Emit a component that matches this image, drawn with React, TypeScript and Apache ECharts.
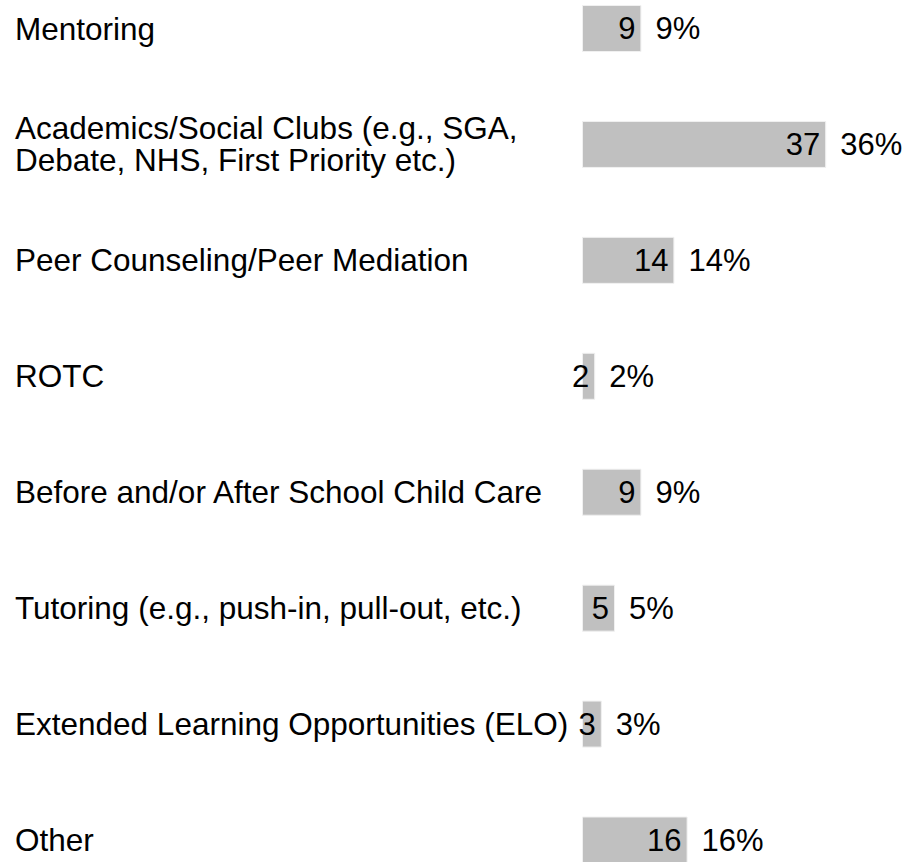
import React, { useEffect, useRef } from "react";
import * as echarts from "echarts";

const categories = [
  "Mentoring",
  "Academics/Social Clubs (e.g., SGA,\nDebate, NHS, First Priority etc.)",
  "Peer Counseling/Peer Mediation",
  "ROTC",
  "Before and/or After School Child Care",
  "Tutoring (e.g., push-in, pull-out, etc.)",
  "Extended Learning Opportunities (ELO)",
  "Other",
];
const counts = [9, 37, 14, 2, 9, 5, 3, 16];
const percents = [9, 36, 14, 2, 9, 5, 3, 16];

const FONT = "'Liberation Sans', Arial, Helvetica, sans-serif";

export default function App() {
  const ref = useRef<HTMLDivElement>(null);
  useEffect(() => {
    if (!ref.current) return;
    const chart = echarts.init(ref.current, null, { renderer: "svg" });
    chart.setOption({
      animation: false,
      backgroundColor: "#ffffff",
      grid: { left: 582, top: 28.5, width: 264, height: 811.5 },
      xAxis: {
        type: "value",
        min: 0,
        max: 40,
        show: false,
      },
      yAxis: {
        type: "category",
        inverse: true,
        boundaryGap: false,
        data: categories,
        axisLine: { show: false },
        axisTick: { show: false },
        splitLine: { show: false },
        axisLabel: {
          align: "left",
          margin: 567,
          color: "#000000",
          fontFamily: FONT,
          fontSize: 31.5,
          lineHeight: 32,
          padding: [6, 0, 0, 0],
        },
      },
      series: [
        {
          type: "bar",
          data: counts,
          barWidth: 47,
          barGap: "-100%",
          itemStyle: { color: "#c0c0c0", borderColor: "#f0f0f0", borderWidth: 1 },
          label: {
            show: true,
            position: "insideRight",
            distance: 6,
            color: "#000000",
            fontFamily: FONT,
            fontSize: 31,
            padding: [6, 0, 0, 0],
          },
          z: 2,
        },
        {
          type: "bar",
          data: counts,
          barWidth: 47,
          barGap: "-100%",
          itemStyle: { color: "rgba(0,0,0,0)" },
          label: {
            show: true,
            position: "right",
            distance: 14,
            color: "#000000",
            fontFamily: FONT,
            fontSize: 31,
            padding: [6, 0, 0, 0],
            formatter: (p: any) => percents[p.dataIndex] + "%",
          },
          z: 3,
        },
      ],
    });
    return () => chart.dispose();
  }, []);
  return (
    <div
      ref={ref}
      style={{ position: "absolute", left: 0, top: 0, width: 907, height: 862, background: "#fff" }}
    />
  );
}
